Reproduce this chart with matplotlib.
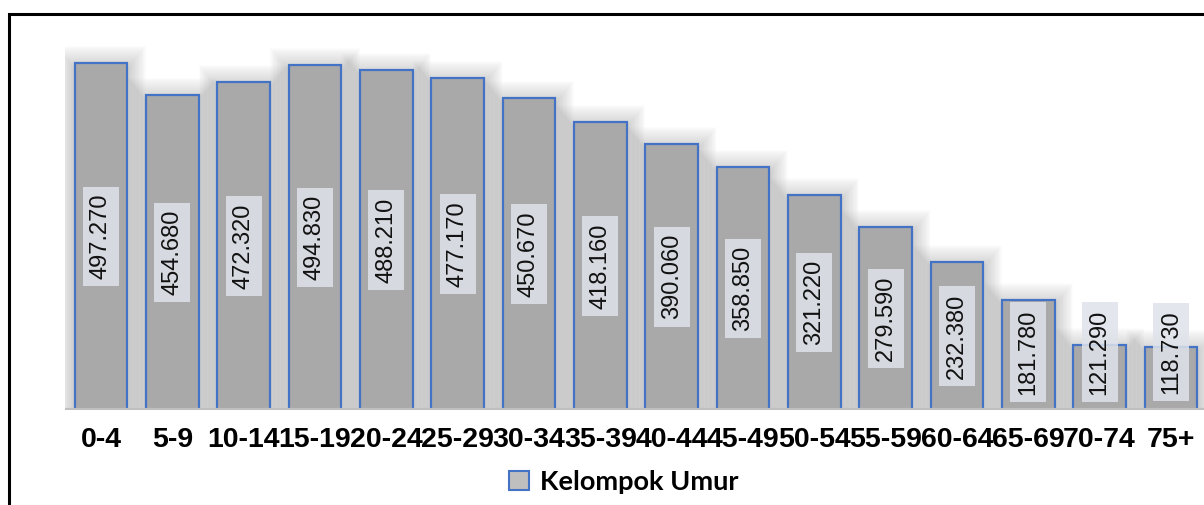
import numpy as np
import matplotlib.pyplot as plt
import matplotlib
from matplotlib.patches import Rectangle, Patch

matplotlib.rcParams.update({'font.family': ['Liberation Sans', 'DejaVu Sans']})

groups = ['0-4', '5-9', '10-14', '15-19', '20-24', '25-29', '30-34', '35-39',
          '40-44', '45-49', '50-54', '55-59', '60-64', '65-69', '70-74', '75+']
values = [497270, 454680, 472320, 494830, 488210, 477170, 450670, 418160,
          390060, 358850, 321220, 279590, 232380, 181780, 121290, 118730]

ylo, yhi = 35300, 528000
px = (yhi - ylo) / 370.0  # data units per pixel

fig = plt.figure(figsize=(12.04, 5.05), dpi=100)
ax = fig.add_axes([65.3 / 1204, 95 / 505, 1141.3 / 1204, 370 / 505])

x = np.arange(len(groups))
vals = np.array(values)

# soft glow behind the bars
for k in range(1, 24):
    ax.bar(x, vals - ylo + k * px - 6 * px, bottom=ylo, width=0.74 + 1.6 * k / 71.3,
           color='#a0a0a0', alpha=0.022, linewidth=0, zorder=1)

ax.bar(x, vals - ylo, bottom=ylo, width=0.74, color='#a9a9a9',
       edgecolor='#4472c4', linewidth=1.6, zorder=3)

# value labels
for i, v in enumerate(values):
    ypos = max((ylo + v) / 2, ylo + 58 * px)
    ax.text(i, ypos, f'{v:,}'.replace(',', '.'), rotation=90, ha='center', va='center',
            fontsize=17, color='#111111', zorder=5,
            bbox=dict(boxstyle='square,pad=0.3', facecolor='#dfe3ea', edgecolor='none', alpha=0.85))

ax.axhline(ylo, color='#bfbfbf', linewidth=3, zorder=4)

ax.set_xlim(-0.5, 15.5)
ax.set_ylim(ylo, yhi)
ax.set_xticks(x)
ax.set_xticklabels(groups, fontsize=20.5, fontweight='bold')
ax.tick_params(axis='x', length=0, pad=12)
ax.set_yticks([])
for s in ax.spines.values():
    s.set_visible(False)

leg = fig.legend(handles=[Patch(facecolor='#bfbfbf', edgecolor='#4472c4', linewidth=1.5,
                                label='Kelompok Umur')],
                 loc='center', bbox_to_anchor=(624 / 1204, 1 - 482 / 505), frameon=False,
                 prop={'family': 'Lato', 'weight': 'bold', 'size': 19.5},
                 handlelength=0.75, handleheight=0.75, handletextpad=0.4)

# outer frame
fig.patches.append(Rectangle((9 / 1204, -0.1), 1.2, 1 - 14 / 505 + 0.1, transform=fig.transFigure,
                             fill=False, edgecolor='black', linewidth=2.2))

fig.savefig('out.png', dpi=100)
